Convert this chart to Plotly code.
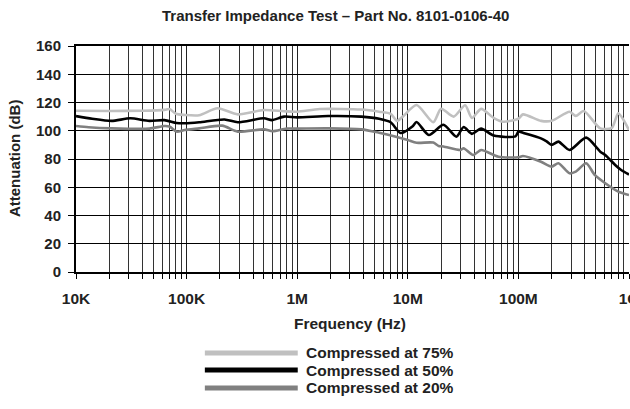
import plotly.graph_objects as go

# Frequency (Hz) and attenuation (dB) readings for each compression level
freq_75 = [1.0e4, 2.0e4, 4.0e4, 6.3e4, 7.0e4, 8.0e4, 9.6e4, 1.3e5, 1.9e5, 2.9e5,
           5.0e5, 7.6e5, 1.0e6, 1.6e6, 3.8e6, 5.5e6, 7.0e6, 8.0e6, 9.0e6, 1.2e7,
           1.7e7, 2.0e7, 2.6e7, 3.3e7, 3.8e7, 4.6e7, 6.0e7, 7.3e7, 1.0e8, 1.1e8,
           1.6e8, 2.0e8, 2.9e8, 3.3e8, 3.9e8, 5.5e8, 7.0e8, 8.0e8, 1.0e9]
att_75 = [114.2, 114.0, 114.2, 114.8, 115.4, 112.0, 111.2, 111.0, 115.9, 111.6,
          114.7, 113.8, 113.5, 115.4, 115.0, 113.5, 112.0, 107.0, 110.0, 118.2,
          106.0, 115.6, 110.0, 118.0, 109.0, 115.5, 109.0, 106.4, 108.5, 111.6,
          107.0, 107.0, 113.5, 110.5, 114.0, 101.7, 102.0, 112.3, 100.5]

freq_50 = [1.0e4, 1.4e4, 2.1e4, 3.1e4, 4.6e4, 6.3e4, 8.1e4, 9.6e4, 1.3e5, 2.2e5,
           2.9e5, 5.0e5, 5.9e5, 7.6e5, 1.0e6, 1.9e6, 3.8e6, 5.5e6, 7.0e6, 8.6e6,
           1.1e7, 1.2e7, 1.55e7, 2.1e7, 2.75e7, 3.2e7, 3.8e7, 4.6e7, 6.0e7, 9.4e7,
           1.0e8, 1.1e8, 1.6e8, 1.8e8, 2.0e8, 2.3e8, 2.9e8, 4.1e8, 5.5e8, 6.1e8,
           7.5e8, 8.5e8, 1.0e9]
att_50 = [110.4, 108.5, 107.0, 108.8, 107.0, 107.5, 105.5, 105.3, 106.0, 108.0,
          106.0, 108.8, 107.5, 110.0, 109.5, 110.4, 110.0, 108.5, 106.0, 98.4,
          103.0, 106.2, 97.0, 104.2, 95.8, 102.6, 97.8, 101.5, 96.6, 96.0,
          99.4, 98.5, 94.6, 92.5, 90.0, 92.3, 86.4, 95.1, 85.2, 82.8,
          75.8, 72.2, 69.0]

freq_20 = [1.0e4, 1.3e4, 2.1e4, 4.6e4, 6.3e4, 7.0e4, 8.1e4, 9.6e4, 1.3e5, 2.1e5,
           2.9e5, 5.0e5, 6.0e5, 8.0e5, 1.0e6, 1.9e6, 3.8e6, 5.5e6, 7.8e6, 1.0e7,
           1.2e7, 1.7e7, 1.9e7, 2.1e7, 3.0e7, 3.2e7, 3.9e7, 4.6e7, 6.6e7, 1.0e8,
           1.1e8, 1.6e8, 2.0e8, 2.3e8, 2.9e8, 3.3e8, 4.1e8, 4.9e8, 6.1e8, 8.0e8,
           1.0e9]
att_20 = [103.4, 102.5, 101.7, 101.5, 103.4, 103.0, 99.4, 100.5, 101.7, 103.6,
          99.4, 101.0, 99.6, 101.5, 101.5, 101.7, 101.0, 98.6, 95.8, 93.5,
          91.5, 91.6, 89.2, 88.9, 86.4, 87.6, 82.8, 86.4, 81.6, 81.2,
          82.1, 78.1, 74.6, 77.0, 69.9, 71.0, 77.0, 68.7, 62.8, 56.9,
          54.5]

series_names = ["Compressed at 75%", "Compressed at 50%", "Compressed at 20%"]
series_colors = ["#c0c0c0", "#000000", "#808080"]

x_tick_vals = [1e4, 1e5, 1e6, 1e7, 1e8, 1e9]
x_tick_text = ["10K", "100K", "1M", "10M", "100M", "1G"]
y_tick_vals = [0, 20, 40, 60, 80, 100, 120, 140, 160]

FONT = "Liberation Sans, Arial, sans-serif"
TEXT = "#222"

minor_vals = [m * 10 ** d for d in range(4, 9) for m in range(2, 10)]

fig = go.Figure()
for fx, fy, name, color in zip([freq_75, freq_50, freq_20],
                               [att_75, att_50, att_20],
                               series_names, series_colors):
    fig.add_trace(go.Scatter(
        x=fx, y=fy, mode="lines", name=name,
        line=dict(color=color, width=2.6, shape="spline", smoothing=0.7),
        showlegend=False,
    ))

fig.update_layout(
    width=630, height=409,
    margin=dict(l=76, r=1, t=46, b=137),
    paper_bgcolor="white", plot_bgcolor="white",
    font=dict(family=FONT, size=12, color=TEXT),
)

fig.update_xaxes(
    type="log", range=[4, 9],
    tickvals=x_tick_vals, ticktext=x_tick_text,
    tickfont=dict(family=FONT, size=15.5, color=TEXT, weight="bold"),
    ticks="outside", ticklen=5, tickcolor="black", tickwidth=1,
    ticklabelstandoff=6, ticklabeloverflow="allow", automargin=False,
    showgrid=True, gridcolor="#222", gridwidth=1.3,
    minor=dict(tickvals=minor_vals, ticks="outside", ticklen=5,
               tickcolor="black", showgrid=True, gridcolor="#333", gridwidth=1.3),
    showline=True, linecolor="black", linewidth=2, mirror=True,
    zeroline=False,
)
fig.update_yaxes(
    range=[0, 160], tickvals=y_tick_vals,
    tickfont=dict(family=FONT, size=15, color=TEXT, weight="bold"),
    ticks="outside", ticklen=6, tickcolor="black", tickwidth=1,
    ticklabelstandoff=4, automargin=False,
    showgrid=True, gridcolor="black", gridwidth=1,
    showline=True, linecolor="black", linewidth=2,
    zeroline=False,
)

# Titles
fig.add_annotation(text="<b>Transfer Impedance Test – Part No. 8101-0106-40</b>",
                   xref="paper", yref="paper", x=0.469, y=1.133,
                   xanchor="center", yanchor="middle",
                   showarrow=False, font=dict(family=FONT, size=15, color=TEXT))
fig.add_annotation(text="<b>Frequency (Hz)</b>", xref="paper", yref="paper",
                   x=0.495, y=-0.226, xanchor="center", yanchor="middle",
                   showarrow=False, font=dict(family=FONT, size=15.5, color=TEXT))
fig.add_annotation(text="<b>Attenuation (dB)</b>", xref="paper", yref="paper",
                   x=-0.112, y=0.5, xanchor="center", yanchor="middle",
                   textangle=-90, showarrow=False,
                   font=dict(family=FONT, size=15, color=TEXT))

# Hand-built legend below the plot
legend_y = [-0.358, -0.434, -0.513]
for ly, name, color in zip(legend_y, series_names, series_colors):
    fig.add_shape(type="line", xref="paper", yref="paper",
                  x0=0.233, x1=0.401, y0=ly, y1=ly,
                  line=dict(color=color, width=5))
    fig.add_annotation(text="<b>" + name + "</b>", xref="paper", yref="paper",
                       x=0.413, y=ly, xanchor="left", yanchor="middle",
                       showarrow=False, font=dict(family=FONT, size=15.5, color=TEXT))

fig.write_html("out.html")
